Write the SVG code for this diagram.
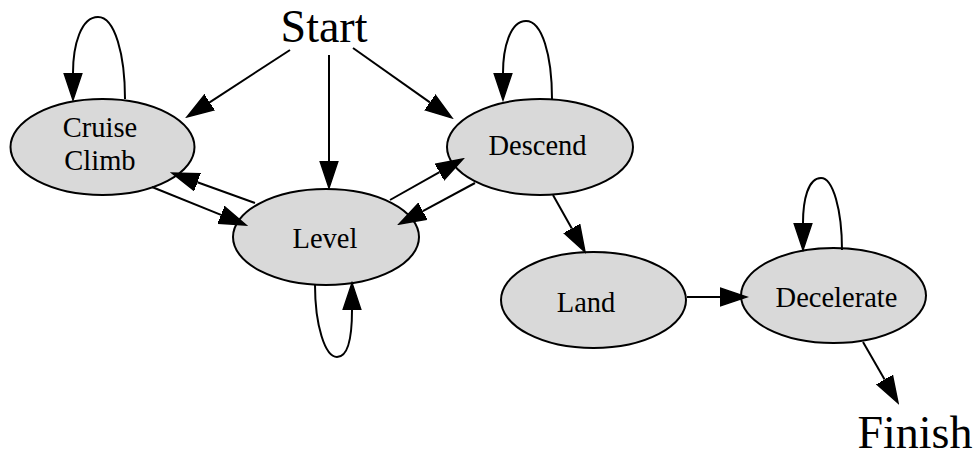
<svg xmlns="http://www.w3.org/2000/svg" width="980" height="457" viewBox="0 0 980 457">
<style>
.node ellipse{fill:#d9d9d9;stroke:#000;stroke-width:2}
text{font-family:"Liberation Serif","Times New Roman",serif;text-anchor:middle;fill:#000}
.lbl{font-size:28.5px}
.big{font-size:46px}
.edges path{fill:none;stroke:#000;stroke-width:2;marker-end:url(#ah)}
</style>
<defs>
<marker id="ah" markerUnits="userSpaceOnUse" viewBox="0 -10 29 20" refX="0" refY="0" markerWidth="29" markerHeight="20" orient="auto">
<path d="M0,-9 L27,0 L0,9 z" fill="#000" stroke="#000" stroke-width="1.5"/>
</marker>
</defs>
<rect width="980" height="457" fill="#fff"/>
<g id="start"><text class="big" x="324" y="42" font-family="Liberation Serif, serif">Start</text></g>
<g id="finish"><text class="big" x="915" y="448" font-family="Liberation Serif, serif">Finish</text></g>
<g id="cruise" class="node" font-family="Liberation Serif, serif"><ellipse cx="102.5" cy="147" rx="92" ry="48"/><text class="lbl" x="100" y="137">Cruise</text><text class="lbl" x="100" y="170">Climb</text></g>
<g id="descend" class="node" font-family="Liberation Serif, serif"><ellipse cx="540" cy="147" rx="93" ry="48"/><text class="lbl" x="537.5" y="155">Descend</text></g>
<g id="level" class="node" font-family="Liberation Serif, serif"><ellipse cx="326" cy="237" rx="93" ry="48"/><text class="lbl" x="325" y="248">Level</text></g>
<g id="land" class="node" font-family="Liberation Serif, serif"><ellipse cx="593.5" cy="300" rx="92.5" ry="48"/><text class="lbl" x="586" y="312">Land</text></g>
<g id="decelerate" class="node" font-family="Liberation Serif, serif"><ellipse cx="833.5" cy="295.5" rx="92.5" ry="47.5"/><text class="lbl" x="836.5" y="307">Decelerate</text></g>
<g id="edges" class="edges">
<path d="M290,50 L209.6,102.3"/>
<path d="M329,55 L329,161"/>
<path d="M353,48 L429.9,102.4"/>
<path d="M125,99 C125,55 115,17 98,17 C81,17 73,45 73,73"/>
<path d="M152,187 L221,214.9"/>
<path d="M255,203 L197.4,182.2"/>
<path d="M390,200 L439.5,172.2"/>
<path d="M475,183 L422.8,211.2"/>
<path d="M552,99 C552,55 542,21 526,21 C510,21 503,48 503,73"/>
<path d="M315,285 C315,325 325,357 337,357 C349,357 352,335 352,310"/>
<path d="M553,195 L571.8,228.5"/>
<path d="M687,297 L720,297"/>
<path d="M842,250 C842,210 833,178 821,178 C808,178 803,200 803,223"/>
<path d="M863,342 L884.6,379.6"/>
</g>
</svg>
